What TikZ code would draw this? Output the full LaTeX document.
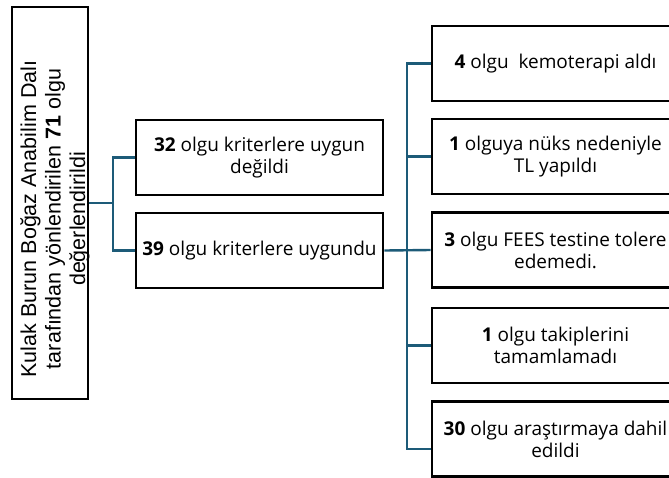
\documentclass[tikz,border=0pt]{standalone}
\usepackage{fontspec}
\setmainfont{Open Sans}
\newfontfamily\arialf{Liberation Sans}
\definecolor{conncol}{HTML}{1D5B78}
\begin{document}
\begin{tikzpicture}[x=1pt,y=-1pt,
  box/.style={draw=black, line width=2.8pt, align=center, inner sep=0pt, font=\fontsize{19}{22}\selectfont},
  conn/.style={draw=conncol, line width=2.4pt}]
\useasboundingbox (0,0) rectangle (669,477);
\clip (0,0) rectangle (669,477);
\node[box, rotate=90, minimum width=392, minimum height=76] (lb) at (50,203) {};
\node[rotate=90, align=center, inner sep=0pt, font=\arialf\fontsize{21.5}{24.5}\selectfont] (lbt) at (55,219)
  {Kulak Burun Boğaz Anabilim Dalı\\tarafından yönlendirilen \textbf{71} olgu\\değerlendirildi};
\node[box, minimum width=247, minimum height=75] (m1) at (259.5,157.5) {\textbf{32} olgu kriterlere uygun\\değildi};
\node[box, minimum width=247, minimum height=75] (m2) at (259.5,250.5) {\textbf{39} olgu kriterlere uygundu};
\node[box, minimum width=247, minimum height=75] (r1) at (555.5,63.5) {\textbf{4} olgu\ \ kemoterapi aldı};
\node[box, minimum width=247, minimum height=75] (r2) at (555.5,156.5) {\textbf{1} olguya nüks nedeniyle\\TL yapıldı};
\node[box, minimum width=247, minimum height=75] (r3) at (555.5,250) {\textbf{3} olgu FEES testine tolere\\edemedi.};
\node[box, minimum width=247, minimum height=75] (r4) at (555.5,345.5) {\textbf{1} olgu takiplerini\\tamamlamadı};
\node[box, minimum width=247, minimum height=75] (r5) at (555.5,439) {\textbf{30} olgu araştırmaya dahil\\edildi};
\coordinate (j1) at (113,203);
\coordinate (j2) at (407,250);
\draw[conn] (lb.south) -- (j1);
\draw[conn] (j1) |- (m1.west);
\draw[conn] (j1) |- (m2.west);
\draw[conn] (m2.east) -- (r3.west);
\draw[conn] (j2) |- (r1.west);
\draw[conn] (j2) |- (r2.west);
\draw[conn] (j2) |- (r4.west);
\draw[conn] (j2) |- ([yshift=-10pt]r5.west);
\end{tikzpicture}
\end{document}
